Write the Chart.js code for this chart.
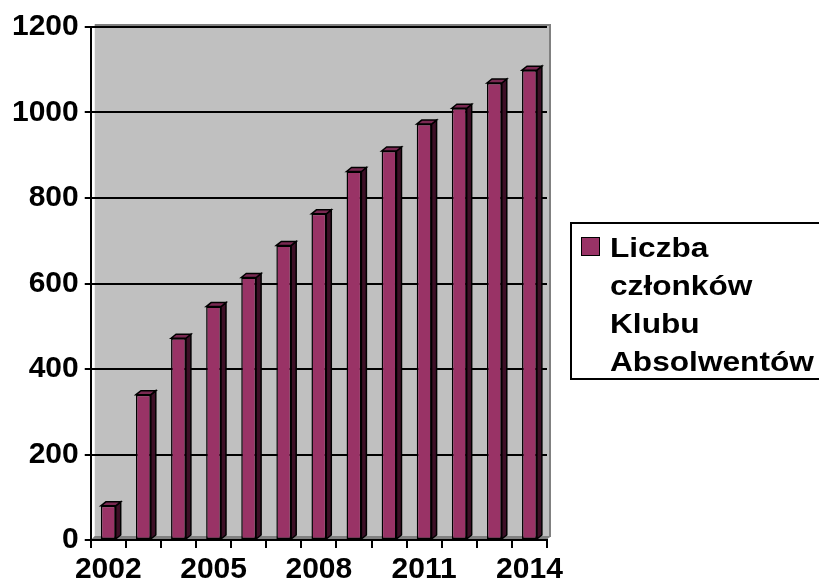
<!DOCTYPE html>
<html>
<head>
<meta charset="utf-8">
<script src="https://cdn.jsdelivr.net/npm/chart.js@4.4.1/dist/chart.umd.min.js"></script>
<style>
  html, body { margin: 0; padding: 0; background: #fff; }
  #wrap { position: relative; width: 819px; height: 586px; overflow: hidden; }
  #legend {
    position: absolute; left: 570px; top: 222px; width: 275px; height: 158px;
    border: 2px solid #000; box-sizing: border-box; background: #fff;
    font-family: "Liberation Sans", Arial, sans-serif; font-weight: bold; font-size: 28px;
    line-height: 38px; color: #000;
  }
  #legend .sw {
    position: absolute; left: 9px; top: 13px; width: 17px; height: 17px;
    background: #993366; border: 1.5px solid #000;
  }
  #legend .txt {
    position: absolute; left: 38px; top: 5px; white-space: pre;
    transform: scaleX(1.13); transform-origin: 0 0;
  }
</style>
</head>
<body>
<div id="wrap">
  <canvas id="c" width="819" height="586"></canvas>
  <div id="legend"><div class="sw"></div><div class="txt" id="ltxt"></div></div>
</div>
<script>
const categories = ["2002","2003","2004","2005","2006","2007","2008","2009","2010","2011","2012","2013","2014"];
const members = [80, 340, 472, 546, 614, 689, 763, 862, 910, 973, 1010, 1069, 1099];
const seriesLabel = "Liczba członków Klubu Absolwentów";
const legendLines = ["Liczba", "członków", "Klubu", "Absolwentów"];

document.getElementById('ltxt').textContent = legendLines.join("\n");

const FONT = "'Liberation Sans', Arial, sans-serif";

const wallPlugin = {
  id: 'wall',
  beforeDraw(chart) {
    const {ctx, chartArea: a} = chart;
    ctx.save();
    ctx.fillStyle = '#c0c0c0';
    ctx.fillRect(a.left + 4, a.top - 2, a.right - a.left - 1, a.bottom - a.top);
    ctx.strokeStyle = '#808080';
    ctx.lineWidth = 2;
    ctx.beginPath();
    ctx.moveTo(a.left + 4, a.top - 2);
    ctx.lineTo(a.right + 3, a.top - 2);
    ctx.lineTo(a.right + 3, a.bottom - 3);
    ctx.stroke();
    ctx.fillStyle = '#808080';
    ctx.beginPath();
    ctx.moveTo(a.left, a.bottom);
    ctx.lineTo(a.left + 4, a.bottom - 4);
    ctx.lineTo(a.right + 3, a.bottom - 4);
    ctx.lineTo(a.right, a.bottom);
    ctx.closePath();
    ctx.fill();
    ctx.restore();
  }
};

const bar3d = {
  id: 'bar3d',
  afterDatasetsDraw(chart) {
    const {ctx} = chart;
    const meta = chart.getDatasetMeta(0);
    const dx = 5, dy = -4;
    ctx.save();
    ctx.lineWidth = 1.5;
    ctx.strokeStyle = '#000';
    meta.data.forEach(el => {
      const p = el.getProps(['x','y','base','width'], true);
      const l = p.x - p.width / 2, r = p.x + p.width / 2, t = p.y, b = p.base;
      ctx.fillStyle = '#3d0f26';
      ctx.beginPath();
      ctx.moveTo(r, t); ctx.lineTo(r + dx, t + dy); ctx.lineTo(r + dx, b + dy); ctx.lineTo(r, b);
      ctx.closePath(); ctx.fill(); ctx.stroke();
      ctx.fillStyle = '#7a2952';
      ctx.beginPath();
      ctx.moveTo(l, t); ctx.lineTo(l + dx, t + dy); ctx.lineTo(r + dx, t + dy); ctx.lineTo(r, t);
      ctx.closePath(); ctx.fill(); ctx.stroke();
    });
    ctx.restore();
  }
};

new Chart(document.getElementById('c'), {
  type: 'bar',
  data: {
    labels: categories,
    datasets: [{
      label: seriesLabel,
      data: members,
      backgroundColor: '#993366',
      borderColor: '#000',
      borderWidth: 1.5,
      borderSkipped: false,
      barPercentage: 0.47,
      categoryPercentage: 0.9
    }]
  },
  options: {
    responsive: false,
    animation: false,
    devicePixelRatio: 1,
    layout: { padding: { left: 6, right: 272, top: 27, bottom: -5 } },
    plugins: { legend: { display: false }, tooltip: { enabled: false } },
    scales: {
      x: {
        grid: { offset: true, drawOnChartArea: false, color: '#000', lineWidth: 2, tickLength: 8 },
        border: { color: '#000', width: 2 },
        ticks: {
          color: '#000', autoSkip: false, maxRotation: 0, padding: 6.5,
          font: { family: FONT, size: 30, weight: 'bold', lineHeight: 1 },
          callback: function(v, i) { return i % 3 === 0 ? this.getLabelForValue(v) : ''; }
        }
      },
      y: {
        min: 0, max: 1200,
        ticks: {
          stepSize: 200, color: '#000', padding: 6,
          font: { family: FONT, size: 30, weight: 'bold', lineHeight: 1 },
          callback: v => String(v)
        },
        grid: { color: '#000', lineWidth: 2, tickLength: 6 },
        border: { color: '#000', width: 2 }
      }
    }
  },
  plugins: [wallPlugin, bar3d]
});
</script>
</body>
</html>
